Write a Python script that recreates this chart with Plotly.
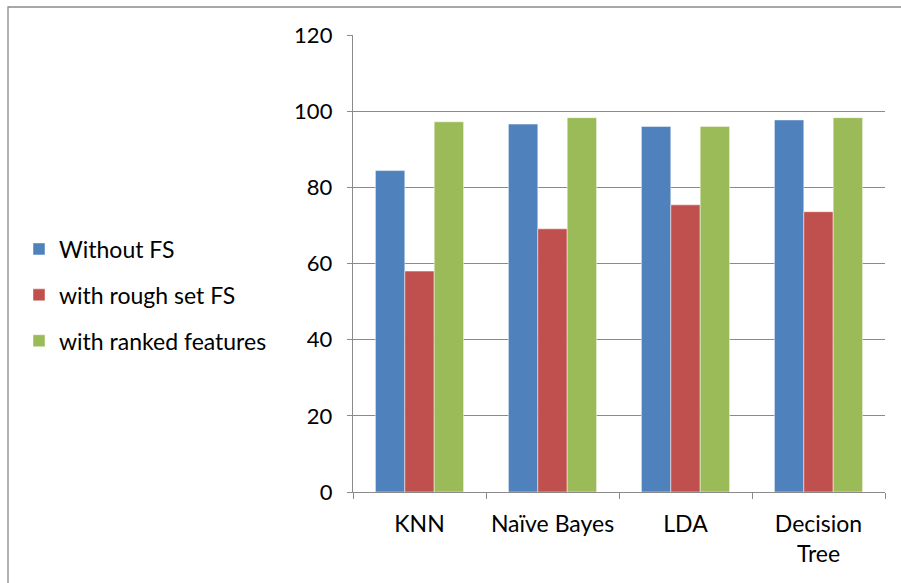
import plotly.graph_objects as go

categories = ["KNN", "Naïve Bayes", "LDA", "Decision<br>Tree"]
without_fs = [84.4, 96.6, 96.0, 97.7]
rough_set_fs = [58.0, 69.1, 75.4, 73.6]
ranked_features = [97.2, 98.3, 96.0, 98.3]
series_names = ["Without FS", "with rough set FS", "with ranked features"]
series_colors = ["#4F81BD", "#C0504D", "#9BBB59"]
y_ticks = [0, 20, 40, 60, 80, 100, 120]

FONT = "Lato"
GRID = "#8A8A8A"

fig = go.Figure()
for name, vals, col in zip(series_names, [without_fs, rough_set_fs, ranked_features], series_colors):
    fig.add_trace(go.Bar(
        x=categories, y=vals, name=name, legendgroup=name,
        marker=dict(color=col, line=dict(width=0.8, color="rgba(255,255,255,0.6)")),
    ))

W, H = 901, 583
ml, mr, mt, mb = 353, 16, 35, 91
pw, ph = W - ml - mr, H - mt - mb

def px_x(p):
    return (p - ml) / pw

def px_y(p):
    return (H - mb - p) / ph

fig.update_layout(
    width=W, height=H,
    margin=dict(l=ml, r=mr, t=mt, b=mb),
    paper_bgcolor="white", plot_bgcolor="white",
    barmode="group", bargap=0.337, bargroupgap=0,
    font=dict(family=FONT, size=22, color="#000000"),
    showlegend=True,
    legend=dict(
        x=px_x(19), xanchor="left", y=px_y(295), yanchor="middle",
        font=dict(family=FONT, size=23, color="#000000"),
        tracegroupgap=13, bgcolor="rgba(0,0,0,0)",
    ),
    xaxis=dict(
        showline=True, linecolor=GRID, linewidth=1.4,
        ticks="outside", tickson="boundaries", ticklen=6, tickcolor=GRID,
        showgrid=False, tickfont=dict(family=FONT, size=23, color="#000000"),
        ticklabelstandoff=11,
    ),
    yaxis=dict(
        range=[0, 120], tickvals=y_ticks, showline=True, linecolor=GRID, linewidth=1.4,
        ticks="outside", ticklen=5, tickcolor=GRID,
        showgrid=True, gridcolor=GRID, gridwidth=1.3, zeroline=False,
        tickfont=dict(family=FONT, size=22, color="#000000"),
        ticklabelstandoff=10,
    ),
    shapes=[dict(
        type="rect", xref="paper", yref="paper",
        x0=px_x(8), x1=px_x(915), y0=px_y(600), y1=px_y(7),
        line=dict(color="#8A8A8A", width=1.3), fillcolor="rgba(0,0,0,0)", layer="below",
    )],
)

fig.write_html("out.html")
